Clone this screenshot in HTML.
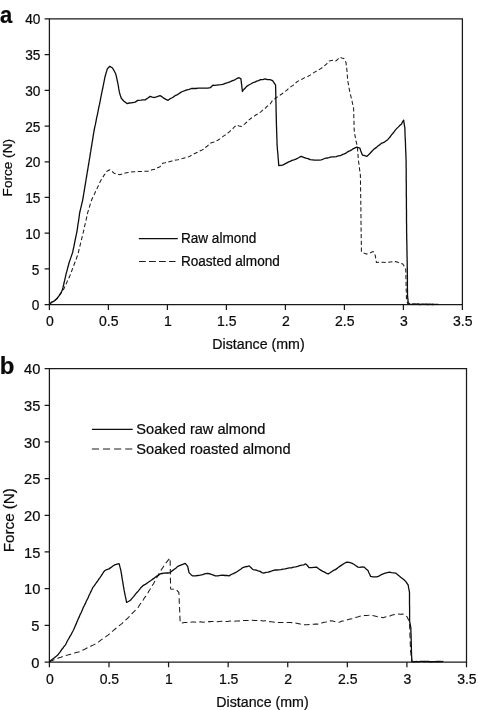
<!DOCTYPE html>
<html><head><meta charset="utf-8"><title>Force-distance curves</title>
<style>
html,body{margin:0;padding:0;background:#fff;}
svg{display:block;}
text{font-family:"Liberation Sans",Arial,Helvetica,sans-serif;fill:#0a0a0a;stroke:#0a0a0a;stroke-width:0.22px;}
.ax{stroke:#1a1a1a;stroke-width:1.25;fill:none;}
.c{stroke:#0c0c0c;stroke-width:1.3;fill:none;stroke-linejoin:round;}
.d{stroke:#1c1c1c;stroke-width:1.05;fill:none;stroke-dasharray:4.2 2.5;stroke-linejoin:round;}
.l{stroke-dasharray:6.8 3.2;}
</style></head><body>
<svg width="478" height="710" viewBox="0 0 478 710">
<rect width="478" height="710" fill="#fff"/>

<g id="chart-a">
<path class="ax" d="M49.4,18.8H462.4V304.7H49.4Z"/>
<path class="ax" d="M44.6,18.80H49.4M44.6,54.54H49.4M44.6,90.27H49.4M44.6,126.01H49.4M44.6,161.75H49.4M44.6,197.49H49.4M44.6,233.22H49.4M44.6,268.96H49.4M44.6,304.70H49.4M49.40,304.7V310.0M108.40,304.7V310.0M167.40,304.7V310.0M226.40,304.7V310.0M285.40,304.7V310.0M344.40,304.7V310.0M403.40,304.7V310.0M462.40,304.7V310.0"/>
<text transform="translate(40.4,24.4) scale(1,1.06)" text-anchor="end" style="font-size:13.7px">40</text>
<text transform="translate(40.4,60.1) scale(1,1.06)" text-anchor="end" style="font-size:13.7px">35</text>
<text transform="translate(40.4,95.9) scale(1,1.06)" text-anchor="end" style="font-size:13.7px">30</text>
<text transform="translate(40.4,131.6) scale(1,1.06)" text-anchor="end" style="font-size:13.7px">25</text>
<text transform="translate(40.4,167.3) scale(1,1.06)" text-anchor="end" style="font-size:13.7px">20</text>
<text transform="translate(40.4,203.1) scale(1,1.06)" text-anchor="end" style="font-size:13.7px">15</text>
<text transform="translate(40.4,238.8) scale(1,1.06)" text-anchor="end" style="font-size:13.7px">10</text>
<text transform="translate(39.3,274.6) scale(1,1.06)" text-anchor="end" style="font-size:13.7px">5</text>
<text transform="translate(39.3,310.3) scale(1,1.06)" text-anchor="end" style="font-size:13.7px">0</text>
<text transform="translate(49.8,326) scale(1,1.06)" text-anchor="middle" style="font-size:14px">0</text>
<text transform="translate(108.8,326) scale(1,1.06)" text-anchor="middle" style="font-size:14px">0.5</text>
<text transform="translate(167.8,326) scale(1,1.06)" text-anchor="middle" style="font-size:14px">1</text>
<text transform="translate(226.8,326) scale(1,1.06)" text-anchor="middle" style="font-size:14px">1.5</text>
<text transform="translate(285.8,326) scale(1,1.06)" text-anchor="middle" style="font-size:14px">2</text>
<text transform="translate(344.8,326) scale(1,1.06)" text-anchor="middle" style="font-size:14px">2.5</text>
<text transform="translate(403.8,326) scale(1,1.06)" text-anchor="middle" style="font-size:14px">3</text>
<text transform="translate(462.8,326) scale(1,1.06)" text-anchor="middle" style="font-size:14px">3.5</text>
<polyline class="d" points="49.4,304.6 51.5,302.3 54.5,300.8 57.0,298.5 58.8,296.1 61.0,293.0 62.3,290.6 63.9,288.9 64.8,286.9 65.7,284.8 66.6,283.1 67.4,280.9 68.3,279.2 69.2,277.2 70.1,275.3 70.9,273.1 71.6,271.3 72.4,269.0 73.1,267.2 73.9,265.0 74.7,263.0 75.4,261.2 76.2,259.4 76.9,257.0 77.7,255.2 78.2,253.1 78.7,251.1 79.2,249.0 79.7,247.0 80.2,244.9 80.7,242.9 81.2,240.8 81.7,238.8 82.2,236.7 82.7,234.7 83.2,232.6 83.7,230.6 84.1,228.6 84.5,226.6 85.0,224.6 85.5,222.6 85.9,220.6 86.4,218.6 86.8,216.6 87.2,214.6 87.7,212.6 88.3,210.6 89.0,208.5 89.6,206.4 90.2,204.4 90.9,202.4 91.5,200.3 92.4,198.3 93.3,196.6 94.1,194.9 95.0,192.8 95.9,190.8 96.8,189.3 97.7,186.9 98.5,185.4 99.4,183.3 100.3,181.5 101.5,179.3 102.8,177.3 104.0,175.4 105.3,173.7 106.5,171.5 109.8,169.7 111.9,171.3 114.1,173.2 116.9,174.0 119.8,174.7 122.1,174.1 124.3,173.3 126.6,172.7 128.8,172.5 131.0,172.0 133.2,171.7 135.4,171.7 137.5,171.5 139.6,171.6 141.7,171.4 143.8,171.3 145.9,171.3 148.0,171.2 150.0,170.5 152.0,169.8 155.5,169.2 157.5,167.8 160.0,166.7 161.3,164.9 162.6,163.3 165.1,162.8 167.6,162.2 170.1,161.5 172.1,160.9 174.1,160.5 176.1,160.0 178.1,159.7 180.1,159.0 182.6,158.5 185.2,157.7 187.7,157.2 189.9,156.3 192.1,154.8 194.2,153.8 196.4,152.7 198.3,151.9 200.2,150.7 202.1,149.9 204.0,149.0 205.6,147.3 207.2,146.2 208.7,144.8 210.3,143.2 212.2,142.5 214.1,141.9 215.9,140.9 217.8,140.2 219.5,139.1 221.1,137.9 222.8,136.7 224.5,135.4 226.1,134.5 227.8,133.1 229.6,131.7 231.3,129.9 233.1,128.4 234.8,126.5 236.6,125.1 239.1,125.9 241.6,126.4 243.4,125.0 245.1,123.6 246.9,122.0 248.6,120.2 250.4,118.8 252.1,117.6 253.8,116.7 255.4,115.2 257.1,114.3 258.8,113.1 260.5,112.1 262.1,110.6 263.7,109.3 265.2,108.3 266.8,106.7 268.4,105.5 270.0,104.3 271.3,102.2 272.6,100.3 274.4,99.2 276.2,97.6 278.0,96.5 279.7,95.3 281.5,94.2 283.3,92.9 285.1,91.5 286.7,90.4 288.2,88.9 289.8,87.7 291.4,86.4 293.0,85.4 294.6,84.2 296.1,82.5 297.7,81.4 299.8,80.2 301.9,79.2 303.9,78.1 306.0,77.2 308.1,76.2 310.2,75.1 312.2,73.7 314.2,72.4 316.3,71.3 318.3,70.1 320.3,68.9 323.4,66.8 324.9,65.4 326.4,64.1 327.8,62.5 329.3,60.9 331.4,60.5 333.5,60.1 336.0,60.9 337.9,59.1 339.8,57.2 341.8,57.9 343.8,58.4 344.9,60.3 346.0,62.6 346.3,65.1 346.6,67.6 346.9,70.1 347.1,72.1 347.2,74.1 347.4,76.2 347.5,78.2 347.7,80.2 348.0,82.2 348.4,84.2 348.7,86.2 349.1,88.2 349.4,90.2 349.9,92.2 350.4,94.2 350.9,96.3 351.4,98.3 351.9,100.3 352.3,102.4 352.8,104.4 353.2,106.5 353.6,108.6 353.7,110.7 353.7,112.9 353.8,115.0 353.8,117.1 353.9,119.2 354.0,121.4 354.0,123.5 354.1,125.6 354.1,127.8 354.2,129.9 354.5,132.5 354.9,135.1 355.3,137.2 355.7,139.3 356.1,141.3 356.6,143.4 357.0,145.5 357.4,147.6 357.6,149.7 357.7,151.8 357.9,153.9 358.1,156.0 358.2,158.1 358.4,160.2 358.7,162.3 359.0,164.5 359.3,166.6 359.5,168.8 359.8,170.9 360.1,173.1 360.4,175.2 360.4,177.2 360.5,179.3 360.5,181.3 360.5,183.4 360.5,185.4 360.6,187.4 360.6,189.5 360.6,191.5 360.7,193.6 360.7,195.6 360.7,197.7 360.8,199.7 360.8,201.7 360.8,203.8 360.8,205.8 360.9,207.9 360.9,209.9 360.9,212.0 360.9,214.1 361.0,216.2 361.0,218.2 361.0,220.3 361.0,222.4 361.1,224.5 361.1,226.6 361.1,228.7 361.1,230.8 361.2,232.8 361.2,234.9 361.2,237.0 361.2,239.1 361.3,241.2 361.3,243.3 361.3,245.3 361.3,247.4 361.4,249.5 361.4,251.6 363.9,253.0 366.4,254.1 368.7,253.4 370.9,252.6 373.2,251.6 374.2,253.6 375.2,255.3 375.6,257.7 376.0,260.0 376.4,262.4 378.7,262.3 380.9,262.3 383.2,262.2 385.4,262.5 387.7,262.4 390.2,261.9 392.8,261.7 395.3,261.6 397.8,262.3 400.3,263.1 402.8,264.1 404.2,266.4 405.7,268.8 405.8,270.9 405.8,273.0 405.9,275.1 405.9,277.2 406.0,279.3 406.0,281.4 406.1,283.5 406.1,285.5 406.2,287.6 406.2,289.7 406.3,291.8 406.3,293.9 406.4,296.0 406.4,298.1 406.5,300.2 407.2,302.0 408.0,304.2 410.0,304.0 412.0,304.0 414.0,304.0 416.0,304.2 418.0,304.0 420.0,304.4 422.0,304.3 424.0,304.1 426.0,304.1 428.0,304.2 430.0,304.2 432.0,304.1 434.0,304.5 436.0,304.5 438.0,304.3"/>
<polyline class="c" points="49.4,304.6 51.5,302.3 54.5,300.8 57.0,298.5 58.8,296.1 61.0,293.0 62.3,290.0 63.0,287.5 63.6,285.0 64.0,283.0 64.5,281.0 64.9,279.1 65.4,277.1 65.8,275.1 66.3,273.1 66.9,271.1 67.4,269.1 67.9,267.0 68.5,265.0 69.0,263.0 69.7,260.9 70.4,258.9 71.2,256.6 71.9,254.5 72.6,252.7 73.0,250.6 73.4,248.6 73.9,246.5 74.3,244.5 74.7,242.4 75.1,240.4 75.5,238.3 75.9,236.3 76.4,234.2 76.8,232.2 77.2,230.1 77.5,227.9 77.8,225.7 78.1,223.5 78.5,221.3 78.8,219.2 79.1,217.0 79.4,214.8 79.7,212.6 80.2,210.5 80.7,208.4 81.2,206.3 81.7,204.2 82.2,202.1 82.7,200.0 83.0,198.0 83.4,196.0 83.7,194.0 84.0,192.0 84.4,190.0 84.7,188.0 85.0,186.0 85.4,184.0 85.7,182.0 86.0,180.0 86.3,178.0 86.7,176.0 87.0,174.0 87.3,172.0 87.7,170.0 88.0,168.0 88.3,166.0 88.7,164.0 89.0,162.0 89.3,159.9 89.7,157.9 90.0,155.8 90.3,153.7 90.7,151.7 91.0,149.6 91.3,147.5 91.7,145.5 92.0,143.4 92.3,141.3 92.7,139.3 93.0,137.2 93.3,135.1 93.7,133.1 94.0,131.0 94.4,129.0 94.8,126.9 95.3,124.9 95.7,122.8 96.1,120.8 96.5,118.7 96.9,116.7 97.4,114.6 97.8,112.6 98.2,110.5 98.6,108.5 99.0,106.4 99.5,104.4 99.9,102.3 100.3,100.3 100.7,98.2 101.1,96.2 101.5,94.1 101.9,92.1 102.3,90.0 102.8,88.0 103.2,85.9 103.6,83.9 104.0,81.8 104.4,79.8 104.8,77.7 105.4,75.5 106.0,73.3 106.7,71.1 107.3,68.9 109.8,66.3 112.5,68.0 113.6,69.8 114.6,71.7 115.7,73.8 116.2,75.8 116.7,77.9 117.1,80.0 117.6,82.0 118.0,84.1 118.4,86.3 118.7,88.4 119.1,90.6 119.5,92.7 120.3,95.3 121.2,98.0 122.6,99.8 124.0,101.2 127.0,103.6 129.2,103.0 131.4,102.9 135.2,102.1 137.7,100.4 141.0,100.2 143.1,99.8 145.2,99.9 147.5,98.3 150.2,96.4 152.3,97.2 154.5,97.5 157.2,96.6 160.0,95.7 161.9,96.7 163.8,98.2 165.9,99.3 168.1,100.3 169.8,98.9 171.6,98.0 173.3,97.1 175.1,95.7 177.0,94.9 178.8,93.7 180.7,92.4 182.6,91.5 184.8,90.7 187.0,89.8 189.2,89.4 191.4,88.5 193.7,88.5 195.9,88.5 198.2,88.2 200.4,88.1 202.7,88.2 205.2,88.2 207.8,88.2 210.3,87.7 212.8,85.2 214.8,85.3 216.8,85.1 218.8,84.9 220.8,84.7 222.8,84.4 225.3,83.4 227.8,82.7 229.9,81.9 232.0,80.9 234.1,80.2 236.6,78.7 239.1,77.7 240.9,78.9 241.2,81.0 241.4,83.1 241.7,85.2 241.9,87.3 242.2,89.4 242.4,91.5 243.8,89.5 245.3,88.0 246.7,86.4 248.8,85.0 250.8,84.0 252.9,82.7 254.8,82.2 256.7,81.2 258.6,80.7 260.5,79.7 262.8,79.6 265.0,78.9 267.5,79.6 270.0,79.7 272.6,80.7 274.1,82.9 275.6,85.2 275.6,87.2 275.7,89.3 275.7,91.3 275.8,93.4 275.8,95.4 275.8,97.5 275.9,99.5 275.9,101.6 276.0,103.6 276.0,105.7 276.1,107.7 276.1,109.8 276.1,111.8 276.2,113.9 276.2,115.9 276.3,118.0 276.3,120.0 276.4,122.1 276.4,124.2 276.5,126.3 276.6,128.4 276.6,130.5 276.7,132.6 276.8,134.6 276.8,136.7 276.9,138.8 277.0,140.9 277.0,143.0 277.1,145.1 277.3,147.2 277.4,149.2 277.6,151.3 277.8,153.3 278.0,155.4 278.1,157.5 278.3,159.5 278.5,161.6 278.6,163.6 278.8,165.7 282.6,165.2 284.5,164.1 286.4,163.1 288.2,162.2 290.1,161.4 292.0,160.4 293.9,159.8 295.8,159.1 297.6,158.3 299.5,157.2 301.4,156.4 303.6,157.3 305.8,158.2 308.0,158.6 310.2,159.7 312.4,159.9 314.6,160.2 316.8,160.2 319.0,160.2 321.3,159.8 323.5,159.0 325.8,158.2 328.0,158.0 330.3,157.2 332.3,156.8 334.3,156.8 336.3,156.6 338.3,155.9 340.3,155.7 342.3,154.6 344.3,153.9 346.4,152.8 348.4,151.4 350.4,150.6 352.5,149.2 354.6,148.1 356.7,147.1 359.9,148.1 360.7,150.7 361.6,153.0 362.4,155.1 364.5,155.5 366.7,156.4 368.3,155.0 369.9,153.5 371.4,151.8 373.0,150.1 374.8,148.6 376.5,147.4 378.2,145.8 380.0,144.6 381.9,143.1 383.9,142.4 385.8,141.0 387.7,139.7 389.0,138.1 390.2,136.8 391.5,134.9 392.8,133.5 394.0,131.9 395.3,130.1 396.9,128.4 398.5,126.9 400.0,125.3 401.6,123.9 402.6,121.8 403.6,120.1 404.0,122.6 404.4,125.1 404.8,127.6 404.9,129.6 405.0,131.7 405.0,133.7 405.1,135.8 405.2,137.8 405.3,139.9 405.4,141.9 405.5,143.9 405.5,146.0 405.6,148.0 405.7,150.1 405.8,152.1 405.9,154.2 405.9,156.2 406.0,158.3 406.1,160.3 406.1,162.4 406.1,164.5 406.1,166.6 406.2,168.8 406.2,170.9 406.2,173.0 406.2,175.1 406.2,177.2 406.2,179.3 406.2,181.4 406.3,183.6 406.3,185.7 406.3,187.8 406.3,189.9 406.3,191.9 406.3,193.9 406.3,195.9 406.4,198.0 406.4,200.0 406.4,202.0 406.4,204.0 406.4,206.0 406.4,208.0 406.5,210.1 406.5,212.1 406.5,214.1 406.5,216.1 406.5,218.1 406.5,220.1 406.5,222.1 406.6,224.2 406.6,226.2 406.6,228.2 406.6,230.2 406.6,232.3 406.7,234.4 406.7,236.5 406.7,238.6 406.8,240.6 406.8,242.7 406.9,244.8 406.9,246.9 406.9,249.0 407.0,251.1 407.0,253.2 407.0,255.3 407.1,257.4 407.1,259.5 407.2,261.5 407.2,263.6 407.2,265.7 407.3,267.8 407.3,269.9 407.3,272.0 407.3,274.1 407.4,276.2 407.4,278.3 407.4,280.4 407.4,282.4 407.4,284.5 407.4,286.6 407.4,288.7 407.5,290.8 407.5,292.9 407.5,295.0 407.7,297.6 408.0,300.1 408.2,302.7 410.0,304.2 412.0,304.3 414.0,304.1 416.1,304.2 418.1,304.0 420.1,304.5 422.1,304.2 424.1,304.2 426.2,304.3 428.2,304.5 430.2,304.2 432.2,304.5 434.3,304.3 436.3,304.3 438.3,304.3"/>
<text transform="translate(0.1,23.1) scale(1,1.06)" style="font-size:22px;font-weight:bold">a</text>
<text transform="translate(12.3,196.4) rotate(-90) scale(1,0.98)" style="font-size:13.6px">Force (N)</text>
<text transform="translate(258.5,348.8) scale(1,1.06)" text-anchor="middle" style="font-size:14.2px">Distance (mm)</text>
<path class="c" d="M138.8,238.7H177.7"/>
<path class="d l" d="M139,261.5H175.5"/>
<text transform="translate(180.9,242.9) scale(1,1.06)" style="font-size:13.6px">Raw almond</text>
<text transform="translate(180.9,266) scale(1,1.06)" style="font-size:13.6px">Roasted almond</text>
</g>
<g id="chart-b">
<path class="ax" d="M49.4,368.6H466.5V662.0H49.4Z"/>
<path class="ax" d="M44.6,368.60H49.4M44.6,405.28H49.4M44.6,441.95H49.4M44.6,478.62H49.4M44.6,515.30H49.4M44.6,551.98H49.4M44.6,588.65H49.4M44.6,625.33H49.4M44.6,662.00H49.4M49.40,662.0V667.3M108.99,662.0V667.3M168.57,662.0V667.3M228.16,662.0V667.3M287.74,662.0V667.3M347.33,662.0V667.3M406.91,662.0V667.3M466.50,662.0V667.3"/>
<text transform="translate(40.4,374.1) scale(1,1.0)" text-anchor="end" style="font-size:14.7px">40</text>
<text transform="translate(40.4,410.8) scale(1,1.0)" text-anchor="end" style="font-size:14.7px">35</text>
<text transform="translate(40.4,447.5) scale(1,1.0)" text-anchor="end" style="font-size:14.7px">30</text>
<text transform="translate(40.4,484.1) scale(1,1.0)" text-anchor="end" style="font-size:14.7px">25</text>
<text transform="translate(40.4,520.8) scale(1,1.0)" text-anchor="end" style="font-size:14.7px">20</text>
<text transform="translate(40.4,557.5) scale(1,1.0)" text-anchor="end" style="font-size:14.7px">15</text>
<text transform="translate(40.4,594.1) scale(1,1.0)" text-anchor="end" style="font-size:14.7px">10</text>
<text transform="translate(39.3,630.8) scale(1,1.0)" text-anchor="end" style="font-size:14.7px">5</text>
<text transform="translate(39.3,667.5) scale(1,1.0)" text-anchor="end" style="font-size:14.7px">0</text>
<text transform="translate(49.8,683.5) scale(1,1.06)" text-anchor="middle" style="font-size:14px">0</text>
<text transform="translate(109.4,683.5) scale(1,1.06)" text-anchor="middle" style="font-size:14px">0.5</text>
<text transform="translate(169.0,683.5) scale(1,1.06)" text-anchor="middle" style="font-size:14px">1</text>
<text transform="translate(228.6,683.5) scale(1,1.06)" text-anchor="middle" style="font-size:14px">1.5</text>
<text transform="translate(288.1,683.5) scale(1,1.06)" text-anchor="middle" style="font-size:14px">2</text>
<text transform="translate(347.7,683.5) scale(1,1.06)" text-anchor="middle" style="font-size:14px">2.5</text>
<text transform="translate(407.3,683.5) scale(1,1.06)" text-anchor="middle" style="font-size:14px">3</text>
<text transform="translate(466.9,683.5) scale(1,1.06)" text-anchor="middle" style="font-size:14px">3.5</text>
<polyline class="d" style="stroke-dasharray:5.6 3.2" points="49.4,661.8 51.3,661.0 53.2,660.0 55.1,659.5 57.1,658.6 59.0,657.7 60.9,657.3 62.8,656.4 64.7,655.7 66.7,655.3 68.6,654.8 70.6,654.2 72.5,653.5 74.5,653.1 76.4,652.5 78.4,652.1 80.3,651.4 82.2,650.3 84.1,649.6 86.0,648.5 87.8,647.5 89.7,646.8 91.6,645.8 93.5,644.9 95.4,643.9 97.2,642.8 99.0,641.6 100.8,640.1 102.6,638.9 104.4,637.6 106.2,636.4 108.0,635.1 109.5,633.9 111.0,632.5 112.6,631.2 114.1,629.9 115.7,628.5 117.3,627.4 118.9,625.9 120.6,624.6 122.2,623.3 123.8,621.6 125.4,620.3 127.0,618.8 128.5,617.4 130.1,615.8 131.7,613.9 133.2,612.3 134.8,610.9 136.3,609.1 137.9,607.8 139.0,606.0 140.1,604.2 141.3,602.9 142.4,601.2 143.5,599.6 144.6,597.6 145.8,596.2 146.9,594.5 148.0,592.7 149.1,590.7 150.1,589.3 151.2,587.6 152.3,585.4 153.4,584.0 154.4,581.9 155.5,580.2 156.6,578.1 157.7,576.2 158.8,573.9 160.1,572.1 161.3,569.7 162.6,567.9 163.8,565.9 165.1,563.9 166.8,561.9 168.4,559.9 170.1,558.1 170.1,560.2 170.2,562.2 170.2,564.3 170.2,566.3 170.3,568.4 170.3,570.5 170.3,572.5 170.4,574.6 170.4,576.6 170.4,578.7 170.5,580.8 170.5,582.8 170.5,584.9 170.6,586.9 170.6,589.0 173.5,589.3 176.4,589.7 178.9,592.7 179.0,594.7 179.1,596.7 179.2,598.7 179.2,600.8 179.3,602.8 179.4,604.8 179.5,606.8 179.6,608.8 179.7,610.8 179.8,612.8 179.9,614.8 179.9,616.9 180.0,618.9 180.1,620.9 180.2,622.9 182.2,622.9 184.2,622.4 186.2,622.6 188.2,622.4 190.2,622.3 192.3,622.0 194.4,622.1 196.5,622.2 198.6,622.1 200.7,621.8 202.8,622.2 204.8,622.0 206.9,622.1 209.0,621.6 211.1,621.6 213.2,621.4 215.3,621.6 217.4,621.7 219.5,621.4 221.6,621.2 223.7,621.3 225.8,621.5 227.9,621.4 229.9,621.0 232.0,620.9 234.1,621.2 236.2,621.0 238.3,621.0 240.4,620.8 242.4,620.5 244.4,620.4 246.4,620.6 248.5,620.4 250.5,620.2 252.5,620.3 254.6,620.6 256.7,620.5 258.8,620.7 260.9,620.4 263.0,620.9 265.1,620.8 267.1,620.9 269.1,621.6 271.1,621.7 273.1,621.9 275.1,622.3 277.1,622.4 279.1,622.6 281.1,622.4 283.1,622.4 285.1,622.6 287.2,622.5 289.2,622.5 291.2,622.6 293.2,622.6 295.2,622.9 297.7,623.4 300.2,624.1 302.7,624.9 304.9,624.7 307.0,624.8 309.2,624.5 311.3,624.4 313.5,624.2 315.6,624.1 317.8,624.1 319.9,623.3 322.0,622.9 324.1,622.2 326.1,622.0 328.2,621.4 330.3,620.8 332.8,621.1 335.4,621.8 337.9,622.3 340.0,622.0 342.1,621.0 344.1,620.9 346.2,620.1 348.3,619.6 350.4,619.1 352.4,618.7 354.4,617.8 356.5,617.3 358.5,616.8 360.5,616.1 362.5,616.1 364.5,615.5 366.6,615.5 368.6,615.2 370.6,614.8 372.7,615.5 374.7,616.0 376.8,616.6 378.9,616.9 381.0,617.2 383.1,617.8 385.2,617.0 387.3,616.4 389.4,616.2 391.5,615.3 393.6,614.7 395.7,614.3 398.2,614.0 400.7,614.3 403.2,614.1 405.1,615.5 407.0,616.6 408.2,619.2 409.5,621.6 409.6,623.6 409.6,625.7 409.7,627.7 409.8,629.7 409.9,631.7 409.9,633.8 410.0,635.8 410.1,637.8 410.1,639.9 410.2,641.9 410.3,643.9 410.4,645.9 410.4,648.0 410.5,650.0 410.8,652.3 411.1,654.6 411.4,657.0 411.7,659.3 412.0,661.6 414.1,661.5 416.1,661.4 418.2,661.5 420.3,661.5 422.3,661.4 424.4,661.5 426.5,661.4 428.5,661.7 430.6,661.7 432.7,661.5 434.7,661.3 436.8,661.7 438.9,661.3 440.9,661.3 443.0,661.4"/>
<polyline class="c" points="49.4,661.8 51.1,660.2 52.7,659.0 54.4,657.8 56.0,656.4 57.7,655.1 59.0,653.3 60.2,651.8 61.5,649.8 62.8,648.3 64.0,646.5 65.3,645.1 66.3,643.3 67.2,641.3 68.2,639.5 69.2,637.9 70.1,636.1 71.1,634.6 72.0,632.8 73.0,631.0 73.8,629.3 74.6,627.4 75.4,625.6 76.2,623.9 77.0,621.8 77.8,620.0 78.6,618.1 79.4,616.6 80.2,614.3 81.1,612.8 81.9,610.9 82.7,609.0 83.6,606.8 84.5,605.3 85.4,603.4 86.3,601.3 87.2,599.5 88.2,597.6 89.1,595.2 90.0,593.5 90.9,591.6 91.8,589.8 92.7,587.7 94.0,586.1 95.2,584.4 96.5,582.5 97.7,580.9 99.0,578.9 100.2,577.3 101.3,575.7 102.5,573.8 103.6,572.0 104.8,570.6 106.9,569.5 109.0,568.9 111.1,567.4 113.2,565.8 115.3,564.6 119.1,563.6 119.7,565.8 120.2,567.9 120.8,570.1 121.1,572.1 121.5,574.1 121.8,576.1 122.1,578.1 122.4,580.2 122.8,582.2 123.1,584.2 123.4,586.2 123.8,588.2 124.1,590.2 124.5,592.2 124.9,594.2 125.3,596.2 125.8,598.3 126.2,600.3 126.6,602.3 128.5,601.5 130.4,600.3 132.0,598.4 133.6,596.6 135.1,594.7 136.7,592.7 138.2,591.1 139.8,589.2 141.3,587.2 142.9,585.7 144.8,584.7 146.7,583.4 148.6,582.0 150.5,580.8 152.4,579.4 154.3,578.1 156.3,576.4 158.2,575.4 160.1,573.9 162.1,573.5 164.1,573.1 166.1,573.0 168.1,573.0 170.1,572.6 172.0,570.9 173.9,569.6 175.8,568.2 177.7,566.4 179.6,565.6 181.4,564.8 183.3,564.1 185.2,563.3 187.7,566.4 188.1,568.5 188.6,570.5 189.0,572.6 190.8,574.4 192.7,575.9 195.2,575.8 197.8,575.5 200.3,575.2 202.8,574.7 205.3,573.7 207.8,573.4 210.3,574.0 212.8,574.9 215.3,575.9 217.8,575.8 220.4,575.3 222.9,575.2 225.0,575.5 227.0,575.4 229.1,575.9 231.2,574.5 233.3,573.6 235.4,572.6 237.3,571.5 239.2,570.2 241.0,569.0 242.9,567.6 245.0,566.9 247.1,566.5 249.2,565.9 251.1,567.7 253.0,569.6 256.3,570.1 258.2,570.8 260.1,571.4 261.9,572.6 263.8,573.1 266.0,572.3 268.2,572.1 270.4,571.5 272.6,570.6 274.7,570.0 276.8,570.0 278.9,569.9 280.9,569.7 283.0,569.2 285.1,568.9 287.2,568.3 289.3,567.9 291.4,567.9 293.5,567.1 295.6,566.9 297.7,566.4 299.7,565.6 301.7,565.2 303.7,564.8 305.7,563.9 307.4,565.5 309.0,567.6 311.5,567.6 314.0,567.3 316.5,567.1 318.6,568.8 320.7,570.1 322.8,571.4 324.6,572.1 326.5,573.3 328.3,573.9 330.1,572.8 331.9,571.5 333.6,570.4 335.4,569.6 337.5,568.1 339.5,566.6 341.6,565.1 344.1,563.5 346.7,562.1 349.2,562.4 351.7,563.1 353.8,564.3 355.9,565.7 358.0,567.1 360.1,567.3 362.2,566.8 364.3,567.1 366.1,569.0 368.0,570.6 368.9,572.7 369.7,574.2 370.6,576.4 372.7,576.8 374.7,576.9 376.8,576.9 378.9,576.1 381.0,574.8 383.1,573.9 385.2,573.2 387.3,572.6 389.4,572.1 391.5,572.7 393.6,572.8 395.7,573.1 397.4,574.4 399.0,575.8 400.7,577.2 402.4,578.5 404.0,579.7 405.7,581.4 406.9,583.1 408.2,585.2 408.6,587.7 409.1,590.2 409.5,592.7 409.5,594.7 409.5,596.7 409.5,598.8 409.5,600.8 409.5,602.8 409.5,604.8 409.6,606.9 409.6,608.9 409.6,610.9 409.6,612.9 409.6,614.9 409.6,617.0 409.6,619.0 409.6,621.0 410.0,623.2 410.4,625.3 410.8,627.5 410.9,629.6 410.9,631.7 411.0,633.8 411.1,635.8 411.1,637.9 411.2,640.0 411.2,642.1 411.3,644.3 411.3,646.4 411.4,648.6 411.4,650.7 411.5,652.9 411.5,655.0 411.7,657.2 411.8,659.4 412.0,661.6 414.1,661.8 416.2,661.4 418.3,661.8 420.4,661.4 422.5,661.4 424.6,661.5 426.7,661.3 428.7,661.4 430.8,661.8 432.9,661.7 435.0,661.6 437.1,661.5 439.2,661.7 441.3,661.7 443.4,661.4"/>
<text transform="translate(-0.3,373.9) scale(1,0.97)" style="font-size:24px;font-weight:bold">b</text>
<text transform="translate(13.6,552.2) rotate(-90) scale(1,0.96)" style="font-size:15.2px">Force (N)</text>
<text transform="translate(262.5,706.9) scale(1,1.06)" text-anchor="middle" style="font-size:14.2px">Distance (mm)</text>
<path class="c" d="M91.9,429.4H132.7"/>
<path class="d" style="stroke-dasharray:7.1 4;stroke-width:1.2" d="M91.9,449H132.6"/>
<text transform="translate(136.3,433.9) scale(1,1.06)" style="font-size:14.62px">Soaked raw almond</text>
<text transform="translate(136.3,453.6) scale(1,1.06)" style="font-size:14.62px">Soaked roasted almond</text>
</g>
</svg></body></html>
